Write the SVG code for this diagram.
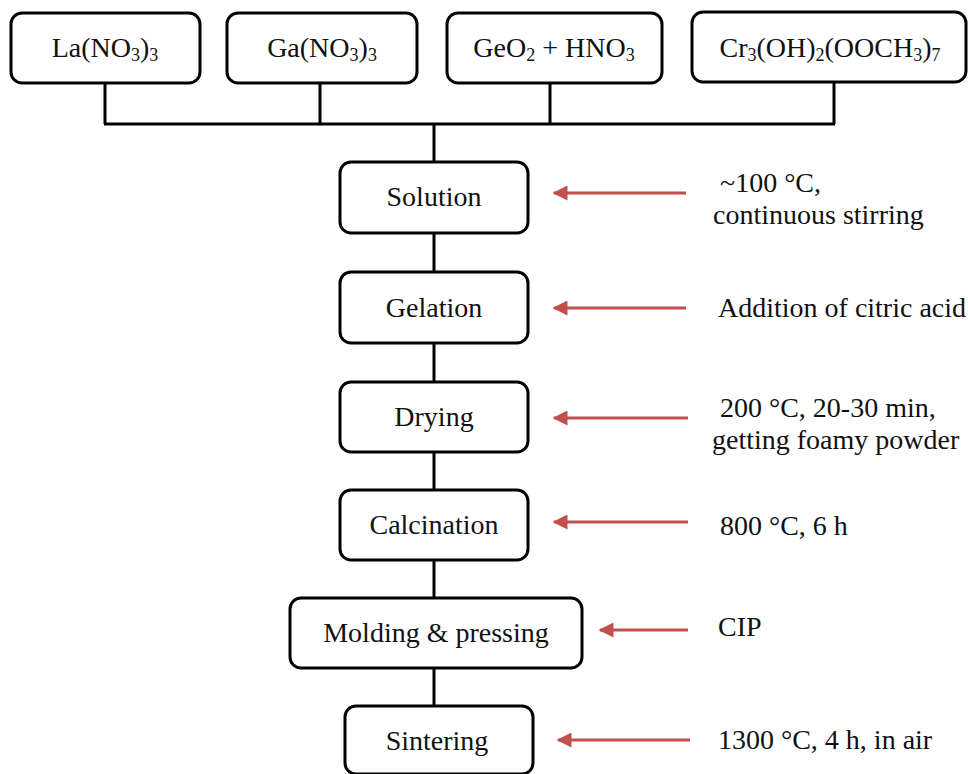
<svg xmlns="http://www.w3.org/2000/svg" width="968" height="774" viewBox="0 0 968 774">
<defs>
<style>
.box{fill:#fff;stroke:#000;stroke-width:3}
.ln{fill:none;stroke:#000;stroke-width:3}
.ar{fill:none;stroke:#c0504d;stroke-width:3}
text{font-family:"Liberation Serif","Times New Roman",serif;font-size:28px;fill:#111}
.m{text-anchor:middle}
.s{font-size:18px}
</style>
<marker id="ah" viewBox="0 0 10 10" refX="9" refY="5" markerWidth="5.5" markerHeight="5" orient="auto" markerUnits="strokeWidth">
<path d="M0,0L10,5L0,10z" fill="#c0504d"/>
</marker>
</defs>
<rect width="968" height="774" fill="#fff"/>
<g id="connectors">
<path class="ln" d="M105,83V124M320,83V124M550,83V124M834,83V124M104,124H835M434,124V162M434,233V272M434,343V382M434,452V490M434,560V598M434,668V706"/>
<path class="ar" d="M686,193H554" marker-end="url(#ah)"/>
<path class="ar" d="M686,308H554" marker-end="url(#ah)"/>
<path class="ar" d="M688,418H554" marker-end="url(#ah)"/>
<path class="ar" d="M688,522H554" marker-end="url(#ah)"/>
<path class="ar" d="M688,630H600" marker-end="url(#ah)"/>
<path class="ar" d="M690,740H558" marker-end="url(#ah)"/>
</g>
<g id="n-la"><rect class="box" x="11" y="13" width="189" height="70" rx="11"/>
<text class="m" x="105" y="57">La(NO<tspan class="s" dy="4">3</tspan><tspan dy="-4">)</tspan><tspan class="s" dy="4">3</tspan></text></g>
<g id="n-ga"><rect class="box" x="227" y="13" width="190" height="70" rx="11"/>
<text class="m" x="322" y="57">Ga(NO<tspan class="s" dy="4">3</tspan><tspan dy="-4">)</tspan><tspan class="s" dy="4">3</tspan></text></g>
<g id="n-ge"><rect class="box" x="447" y="13" width="215" height="70" rx="11"/>
<text class="m" x="554" y="57">GeO<tspan class="s" dy="4">2</tspan><tspan dy="-4"> + HNO</tspan><tspan class="s" dy="4">3</tspan></text></g>
<g id="n-cr"><rect class="box" x="692" y="12" width="274" height="70" rx="11"/>
<text class="m" x="830" y="57">Cr<tspan class="s" dy="4">3</tspan><tspan dy="-4">(OH)</tspan><tspan class="s" dy="4">2</tspan><tspan dy="-4">(OOCH</tspan><tspan class="s" dy="4">3</tspan><tspan dy="-4">)</tspan><tspan class="s" dy="4">7</tspan></text></g>
<g id="n-solution"><rect class="box" x="340" y="162" width="188" height="71" rx="11"/>
<text class="m" x="434" y="206">Solution</text></g>
<g id="n-gelation"><rect class="box" x="340" y="272" width="188" height="71" rx="11"/>
<text class="m" x="434" y="317">Gelation</text></g>
<g id="n-drying"><rect class="box" x="340" y="382" width="188" height="70" rx="11"/>
<text class="m" x="434" y="426">Drying</text></g>
<g id="n-calcination"><rect class="box" x="340" y="490" width="188" height="70" rx="11"/>
<text class="m" x="434" y="534">Calcination</text></g>
<g id="n-molding"><rect class="box" x="290" y="598" width="292" height="70" rx="11"/>
<text class="m" x="436" y="642">Molding &amp; pressing</text></g>
<g id="n-sintering"><rect class="box" x="345" y="706" width="188" height="68" rx="11"/>
<text class="m" x="437" y="750">Sintering</text></g>
<g id="labels">
<text x="720" y="192">~100 °C,</text>
<text x="713" y="224">continuous stirring</text>
<text x="718" y="317">Addition of citric acid</text>
<text x="720" y="417">200 °C, 20-30 min,</text>
<text x="712" y="449">getting foamy powder</text>
<text x="720" y="535">800 °C, 6 h</text>
<text x="718" y="636">CIP</text>
<text x="718" y="749">1300 °C, 4 h, in air</text>
</g>
</svg>
